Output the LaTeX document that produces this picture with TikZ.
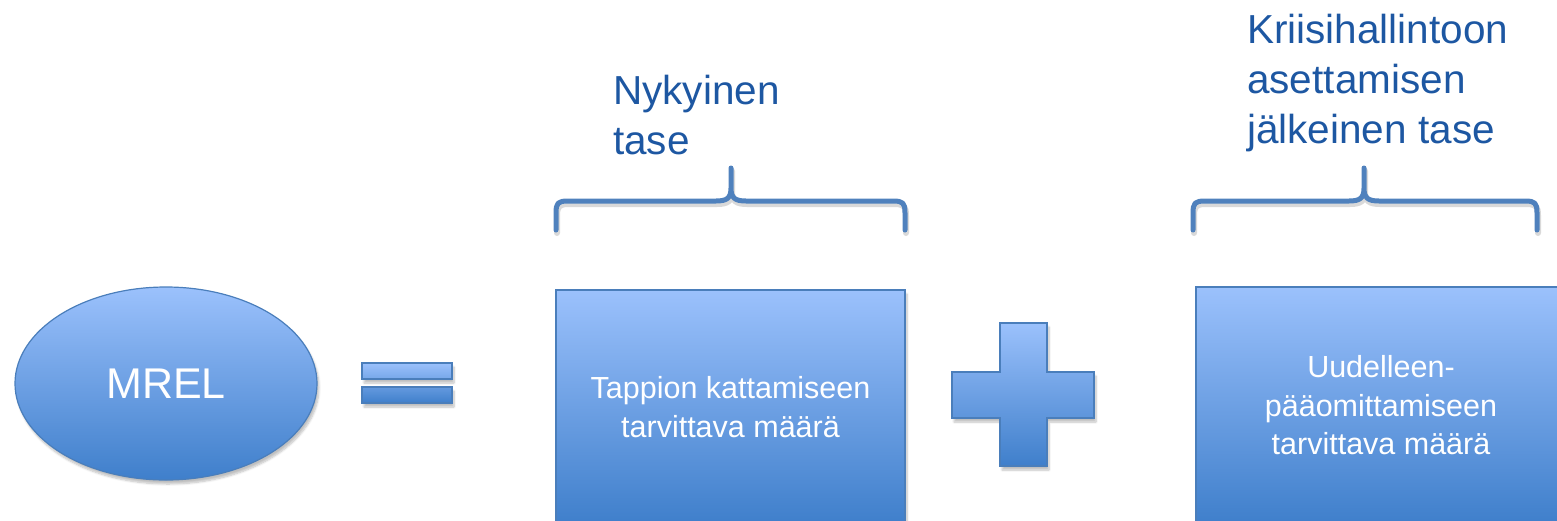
\documentclass[tikz,border=0pt]{standalone}
\usepackage{fontspec}
\setmainfont{Liberation Sans}
\usetikzlibrary{shapes.geometric,shadows.blur}
\definecolor{gtop}{HTML}{9BC1FC}
\definecolor{gbot}{HTML}{3F7FCB}
\definecolor{edge}{HTML}{4A7EBB}
\definecolor{brace}{HTML}{4F81BD}
\definecolor{title}{HTML}{1D57A2}
\tikzset{
  grad/.style={draw=edge, line width=1.2pt, top color=gtop, bottom color=gbot,
    blur shadow={shadow xshift=2pt, shadow yshift=-4pt, shadow blur steps=6, shadow opacity=25}},
  boxtext/.style={text=white, align=center, font=\fontsize{30.5}{38.5}\selectfont},
  bracepath/.style={draw=brace, line width=5pt, line cap=round, line join=round},
  braceshadow/.style={draw=black, opacity=0.15, line width=6pt, line cap=round, line join=round,
    xshift=1pt, yshift=-3pt},
  titletext/.style={text=title, anchor=base west, inner sep=0pt, font=\fontsize{40.5}{48}\selectfont}
}
\def\bracea{(556,230) -- (556,213) .. controls (556,203) and (558,201) .. (568,201)
  -- (716,201) .. controls (727,201) and (731,198) .. (731,188) -- (731,168)
  (731,188) .. controls (731,198) and (735,201) .. (746,201)
  -- (893,201) .. controls (903,201) and (905,203) .. (905,213) -- (905,230)}
\def\braceb{(1193,230) -- (1193,213) .. controls (1193,203) and (1195,201) .. (1205,201)
  -- (1349,201) .. controls (1360,201) and (1364,198) .. (1364,188) -- (1364,168)
  (1364,188) .. controls (1364,198) and (1368,201) .. (1379,201)
  -- (1525,201) .. controls (1535,201) and (1537,203) .. (1537,213) -- (1537,230)}
\begin{document}
\begin{tikzpicture}[x=1pt,y=-1pt]
\useasboundingbox (0,0) rectangle (1557,520);
\begin{scope}
\clip (0,0) rectangle (1557,520);
% ellipse
\node[grad, ellipse, minimum width=302pt, minimum height=193pt, inner sep=0pt,
  text=white, font=\fontsize{43}{50}\selectfont] (mrel) at (166,383.5) {MREL};
% equals sign
\path[grad] (362,363) rectangle (452,379) (362,387) rectangle (452,403);
% box 1
\node[grad, rectangle, minimum width=349pt, minimum height=234pt, inner sep=0pt, boxtext]
  (box1) at (730.5,407) {Tappion kattamiseen\\tarvittava määrä};
% plus sign
\path[grad] (1000,323) -- (1047,323) -- (1047,372) -- (1094,372) -- (1094,418)
  -- (1047,418) -- (1047,466) -- (1000,466) -- (1000,418) -- (952,418)
  -- (952,372) -- (1000,372) -- cycle;
% box 2
\node[grad, rectangle, minimum width=370pt, minimum height=237pt, inner sep=0pt, boxtext]
  (box2) at (1381,405.5) {Uudelleen-\\pääomittamiseen\\tarvittava määrä};
\end{scope}
% braces
\draw[braceshadow] \bracea;
\draw[braceshadow] \braceb;
\draw[bracepath] \bracea;
\draw[bracepath] \braceb;
% titles
\node[titletext] (t1a) at (613,104) {Nykyinen};
\node[titletext] (t1b) at (613,154) {tase};
\node[titletext] (t2a) at (1247,43) {Kriisihallintoon};
\node[titletext] (t2b) at (1247,93) {asettamisen};
\node[titletext] (t2c) at (1247,143) {jälkeinen tase};
\end{tikzpicture}
\end{document}
